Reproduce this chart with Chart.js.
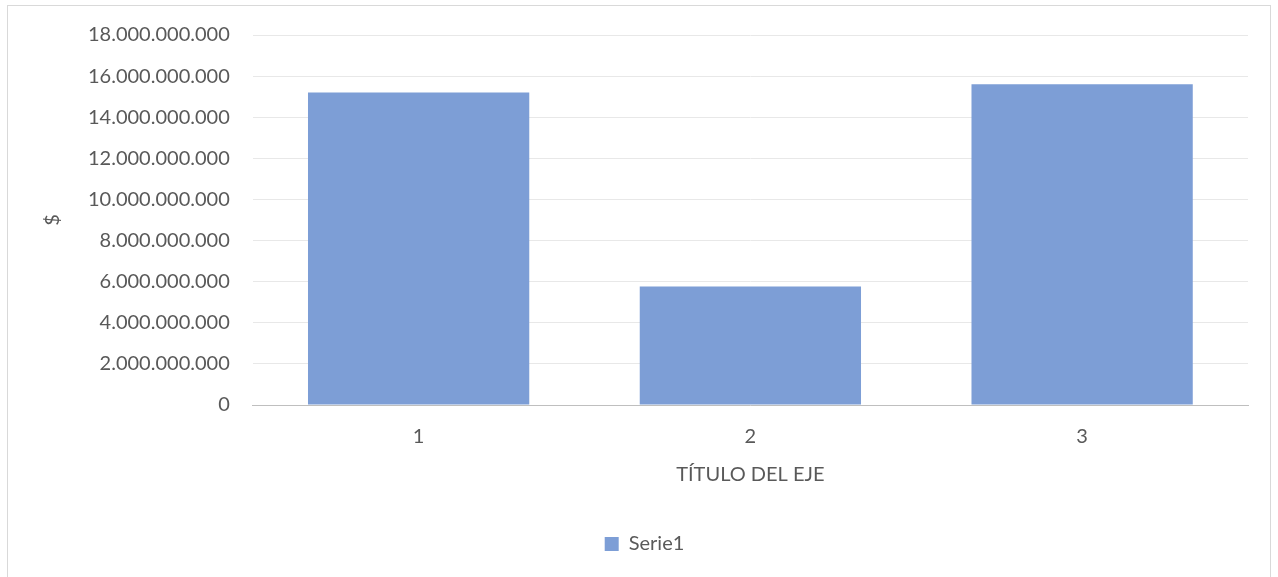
<!DOCTYPE html>
<html>
<head>
<meta charset="utf-8">
<script src="https://cdn.jsdelivr.net/npm/chart.js@4.4.0/dist/chart.umd.min.js"></script>
<style>
    html, body { margin: 0; padding: 0; background: #fff; }
    #wrap { position: relative; width: 1278px; height: 577px; }
    #frame { position: absolute; left: 7px; top: 5px; width: 1264px; height: 580px; border: 1px solid #d9d9d9; box-sizing: border-box; }
    canvas { position: absolute; left: 0; top: 0; }
</style>
</head>
<body>
<div id="wrap">
    <div id="frame"></div>
    <canvas id="chart1" width="1278" height="577"></canvas>
</div>
<script>
const labels = ["1", "2", "3"];
const serie1 = [15200000000, 5770000000, 15600000000];
const yTicks = [0, 2000000000, 4000000000, 6000000000, 8000000000, 10000000000, 12000000000, 14000000000, 16000000000, 18000000000];

document.addEventListener("DOMContentLoaded", function () {
    const ctx = document.getElementById("chart1").getContext("2d");
    const textColor = "#595959";
    const fontFamily = "Lato, 'Open Sans', sans-serif";

    function fmt(v) {
        return String(Math.round(v)).replace(/\B(?=(\d{3})+(?!\d))/g, ".");
    }

    new Chart(ctx, {
        type: "bar",
        data: {
            labels: labels,
            datasets: [{
                label: "Serie1",
                data: serie1,
                backgroundColor: "#7d9ed6",
                borderWidth: 0,
                categoryPercentage: 1,
                barPercentage: 0.667
            }]
        },
        options: {
            responsive: false,
            animation: false,
            layout: { padding: { left: 41, right: 30, top: 26, bottom: 13 } },
            plugins: {
                tooltip: { enabled: false },
                legend: {
                    position: "bottom",
                    labels: {
                        color: textColor,
                        font: { family: fontFamily, size: 20 },
                        boxWidth: 14,
                        boxHeight: 14,
                        padding: 20
                    }
                }
            },
            scales: {
                x: {
                    grid: { display: false },
                    border: { display: true, color: "#bfbfbf", width: 1 },
                    ticks: { color: textColor, font: { family: fontFamily, size: 20 }, padding: 12 },
                    title: {
                        display: true,
                        text: "TÍTULO DEL EJE",
                        color: textColor,
                        font: { family: fontFamily, size: 20 },
                        padding: { top: 2, bottom: 27 }
                    }
                },
                y: {
                    min: 0,
                    max: 18000000000,
                    afterBuildTicks: function (axis) {
                        axis.ticks = yTicks.map(v => ({ value: v }));
                    },
                    grid: { color: "#e8e8e8", drawTicks: false },
                    border: { display: false },
                    ticks: {
                        color: textColor,
                        font: { family: fontFamily, size: 20 },
                        padding: 23,
                        callback: function (v) { return fmt(v); }
                    },
                    title: {
                        display: true,
                        text: "$",
                        color: textColor,
                        font: { family: fontFamily, size: 20 },
                        padding: { top: 0, bottom: 0 }
                    }
                }
            }
        }
    });
});
</script>
</body>
</html>
